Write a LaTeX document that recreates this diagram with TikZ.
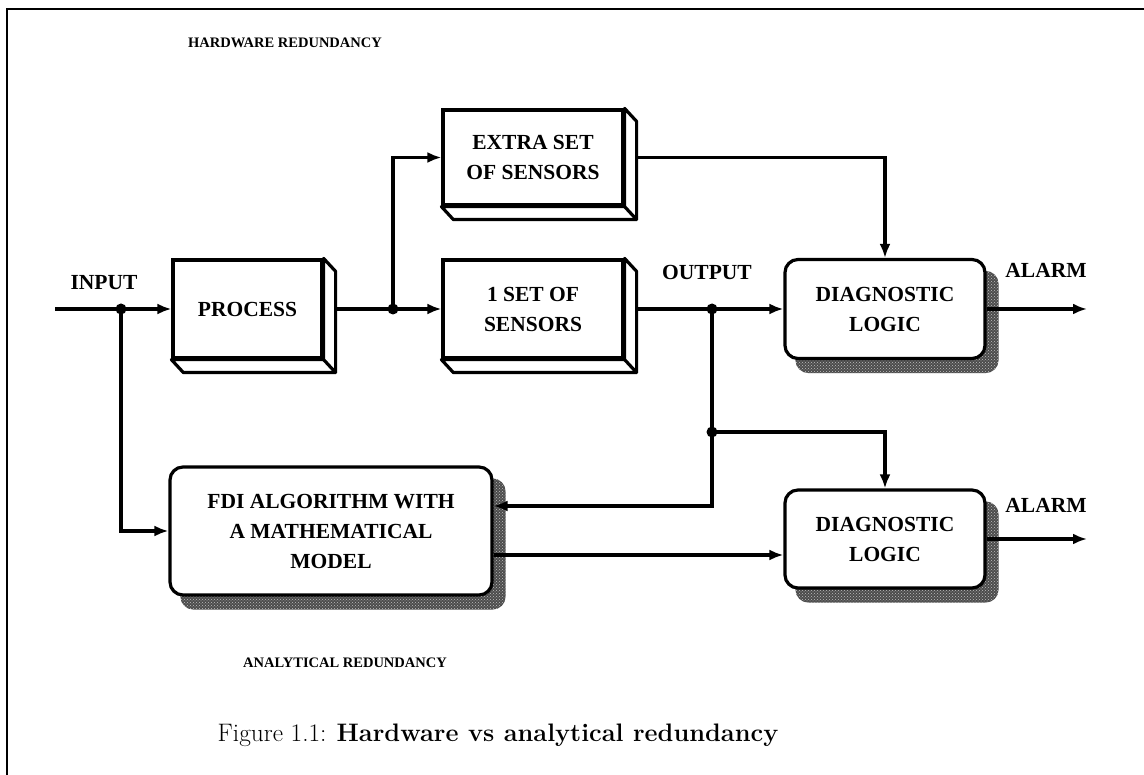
\documentclass[tikz,border=0pt]{standalone}
\usepackage{fontspec}
\newfontfamily\labelfont{Liberation Serif}
\usetikzlibrary{arrows.meta,patterns}
\pgfdeclarelayer{back}
\pgfsetlayers{back,main}

\tikzset{
  wire/.style={line width=3.2pt},
  flow/.style={wire,-{Latex[length=14pt,width=11pt]}},
  joint/.style={circle,fill=black,inner sep=0pt,minimum size=11pt},
  blockbox/.style={draw,line width=3.2pt,fill=white,inner sep=0pt,align=center,
    font=\labelfont\bfseries\fontsize{21.5}{30}\selectfont},
  roundbox/.style={blockbox,rounded corners=13pt},
  tag/.style={font=\labelfont\bfseries\fontsize{21.5}{26}\selectfont},
  heading/.style={font=\labelfont\bfseries\fontsize{14.5}{17}\selectfont},
}

% side and bottom faces of a box drawn in relief
\newcommand\extrude[1]{%
  \draw[line width=3.2pt,fill=white,line join=round]
    (#1.north east) -- ++(12,13) -- ([xshift=12pt,yshift=-13pt]#1.south east)
    -- ([xshift=12pt,yshift=-13pt]#1.south west) -- (#1.south west)
    -- (#1.south east) -- cycle;
  \draw[line width=3.2pt] (#1.south east) -- ++(12,13);}

% grainy drop shadow behind a rounded box
\newcommand\castshadow[1]{%
  \begin{pgfonlayer}{back}
    \fill[black!70,rounded corners=13pt]
      ([xshift=12pt,yshift=-13pt]#1.south west) rectangle ([xshift=12pt,yshift=-13pt]#1.north east);
    \fill[pattern=crosshatch dots,pattern color=black!25,rounded corners=13pt]
      ([xshift=12pt,yshift=-13pt]#1.south west) rectangle ([xshift=12pt,yshift=-13pt]#1.north east);
  \end{pgfonlayer}}

\begin{document}
\begin{tikzpicture}[x=1pt,y=-1pt]
  \useasboundingbox (0,0) rectangle (1144,775);

  % frame
  \draw[line width=2.5pt] (7,775) -- (7,9) -- (1144,9);

  % blocks
  \node[blockbox,minimum width=149pt,minimum height=98pt] (process) at (247.5,309) {PROCESS};
  \node[blockbox,minimum width=180pt,minimum height=95pt] (extra) at (533,157.5) {EXTRA SET\\OF SENSORS};
  \node[blockbox,minimum width=180pt,minimum height=98pt] (sens) at (533,309) {1 SET OF\\SENSORS};
  \node[roundbox,minimum width=200pt,minimum height=99pt] (diagA) at (885,309) {DIAGNOSTIC\\LOGIC};
  \node[roundbox,minimum width=200pt,minimum height=98pt] (diagB) at (885,539) {DIAGNOSTIC\\LOGIC};
  \node[roundbox,minimum width=322pt,minimum height=128pt] (fdi) at (331,531) {FDI ALGORITHM WITH\\A MATHEMATICAL\\MODEL};

  \castshadow{diagA}
  \castshadow{diagB}
  \castshadow{fdi}

  % signal points
  \coordinate (src) at (55,309);
  \node[joint] (jin) at (121,309) {};
  \node[joint] (jproc) at (393,309) {};
  \node[joint] (jout) at (712,309) {};
  \node[joint] (jmid) at (712,432) {};
  \coordinate (alarmA) at (1087,309);
  \coordinate (alarmB) at (1087,539);
  \coordinate (fdiback) at ([yshift=25pt]fdi.east);
  \coordinate (fdiout) at ([yshift=-24pt]fdi.east);

  % connectors
  \draw[flow] (src) -- (process.west);
  \draw[flow] (jin.center) |- (fdi.west);
  \draw[flow] (process.east) -- (sens.west);
  \draw[flow] (jproc.center) |- (extra.west);
  \draw[flow] (extra.east) -| (diagA.north);
  \draw[flow] (sens.east) -- (diagA.west);
  \draw[flow] (jout.center) |- (fdiback);
  \draw[flow] (jmid.center) -| (diagB.north);
  \draw[flow] (fdiout) -- (fdiout -| diagB.west);
  \draw[flow] (diagA.east) -- (alarmA);
  \draw[flow] (diagB.east) -- (alarmB);

  % relief faces
  \extrude{process}
  \extrude{extra}
  \extrude{sens}

  % labels
  \node[tag] (lin) at (104,283) {INPUT};
  \node[tag] (lout) at (707,272) {OUTPUT};
  \node[tag] (lalA) at (1046,270) {ALARM};
  \node[tag] (lalB) at (1046,505) {ALARM};
  \node[heading] (hw) at (285,43) {HARDWARE REDUNDANCY};
  \node[heading] (an) at (345,663) {ANALYTICAL REDUNDANCY};

  % caption
  \node (cap) at (498,735) {\fontsize{25.3}{30}\selectfont Figure 1.1: \textbf{Hardware vs analytical redundancy}};
\end{tikzpicture}
\end{document}
